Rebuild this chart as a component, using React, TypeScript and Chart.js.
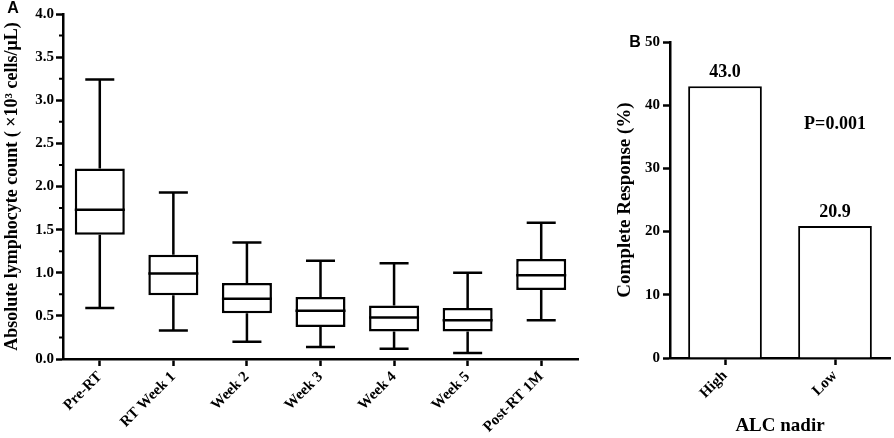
import React, { useEffect, useRef } from "react";
import { Chart, registerables } from "chart.js";

Chart.register(...registerables);

// ---- Panel A data (box plots) ----
const stages = ["Pre-RT", "RT Week 1", "Week 2", "Week 3", "Week 4", "Week 5", "Post-RT 1M"];
const whiskerMin = [0.59, 0.33, 0.2, 0.14, 0.12, 0.07, 0.45];
const quartile1 = [1.44, 0.74, 0.53, 0.37, 0.32, 0.32, 0.8];
const medianVals = [1.73, 0.99, 0.7, 0.56, 0.48, 0.45, 0.97];
const quartile3 = [2.21, 1.21, 0.88, 0.72, 0.62, 0.59, 1.16];
const whiskerMax = [3.24, 1.93, 1.35, 1.14, 1.11, 1.0, 1.58];
const yTitleA = "Absolute lymphocyte count ( \u00d710\u00b3 cells/\u03bcL)";

// ---- Panel B data (bars) ----
const alcGroups = ["High", "Low"];
const completeResponse = [43.0, 20.9];
const pValueText = "P=0.001";
const pValuePosition = 37; // y value where the P label sits (over "Low")

const SERIF = "'Liberation Serif', 'Times New Roman', serif";
const SANS = "'Liberation Sans', Arial, sans-serif";
const LINE = 2.5;

const tickFont = { family: SERIF, size: 15, weight: "bold" as const };
const titleFontA = { family: SERIF, size: 18, weight: "bold" as const };
const titleFont = { family: SERIF, size: 19, weight: "bold" as const };

const boxPlugin = {
  id: "boxWhiskers",
  afterDatasetsDraw(chart: any) {
    const meta = chart.getDatasetMeta(0);
    const y = chart.scales.y;
    const ctx = chart.ctx;
    ctx.save();
    ctx.strokeStyle = "#000";
    ctx.lineWidth = LINE;
    meta.data.forEach((bar: any, i: number) => {
      const { x, width } = bar.getProps(["x", "width"], true);
      const half = width / 2;
      const cap = width * 0.29;
      const yMed = y.getPixelForValue(medianVals[i]);
      const yQ1 = y.getPixelForValue(quartile1[i]);
      const yQ3 = y.getPixelForValue(quartile3[i]);
      const yMin = y.getPixelForValue(whiskerMin[i]);
      const yMax = y.getPixelForValue(whiskerMax[i]);
      ctx.beginPath();
      ctx.moveTo(x - half, yMed);
      ctx.lineTo(x + half, yMed);
      ctx.moveTo(x, yQ3);
      ctx.lineTo(x, yMax);
      ctx.moveTo(x - cap, yMax);
      ctx.lineTo(x + cap, yMax);
      ctx.moveTo(x, yQ1);
      ctx.lineTo(x, yMin);
      ctx.moveTo(x - cap, yMin);
      ctx.lineTo(x + cap, yMin);
      ctx.stroke();
    });
    // minor ticks on the y axis
    const left = chart.chartArea.left;
    ctx.lineWidth = 2;
    ctx.beginPath();
    for (let v = 0.25; v < 4; v += 0.5) {
      const py = y.getPixelForValue(v);
      ctx.moveTo(left - 4, py);
      ctx.lineTo(left, py);
    }
    ctx.stroke();
    // panel letter
    ctx.fillStyle = "#000";
    ctx.font = `bold 16px ${SANS}`;
    ctx.textAlign = "center";
    ctx.textBaseline = "middle";
    ctx.fillText("A", 13, 9);
    ctx.restore();
  },
};

const barLabelPlugin = {
  id: "barLabels",
  afterDatasetsDraw(chart: any) {
    const meta = chart.getDatasetMeta(0);
    const ctx = chart.ctx;
    const x = chart.scales.x;
    const y = chart.scales.y;
    ctx.save();
    ctx.fillStyle = "#000";
    ctx.font = `bold 18px ${SERIF}`;
    ctx.textAlign = "center";
    ctx.textBaseline = "middle";
    meta.data.forEach((bar: any, i: number) => {
      const { x: bx, y: by } = bar.getProps(["x", "y"], true);
      ctx.fillText(completeResponse[i].toFixed(1), bx, by - 14);
    });
    ctx.fillText(pValueText, x.getPixelForValue(1), y.getPixelForValue(pValuePosition));
    ctx.font = `bold 16px ${SANS}`;
    ctx.fillText("B", 35, 43);
    ctx.restore();
  },
};

function PanelA() {
  const ref = useRef<HTMLCanvasElement>(null);
  useEffect(() => {
    if (!ref.current) return;
    const chart = new Chart(ref.current, {
      type: "bar",
      data: {
        labels: stages,
        datasets: [
          {
            data: stages.map((_, i) => [quartile1[i], quartile3[i]]) as any,
            backgroundColor: "#fff",
            borderColor: "#000",
            borderWidth: LINE,
            borderSkipped: false,
            barPercentage: 0.68,
            categoryPercentage: 1,
          },
        ],
      },
      options: {
        responsive: false,
        maintainAspectRatio: false,
        animation: false,
        devicePixelRatio: 1,
        layout: { padding: { top: 14, right: 22, left: 0, bottom: 0 } },
        plugins: { legend: { display: false }, tooltip: { enabled: false } },
        scales: {
          x: {
            offset: true,
            grid: { offset: false, drawOnChartArea: false, drawTicks: true, tickLength: 7, tickWidth: LINE, tickColor: "#000" },
            border: { display: true, color: "#000", width: LINE },
            ticks: { color: "#000", font: tickFont, maxRotation: 45, minRotation: 45, autoSkip: false, padding: 2 },
            afterFit: (s: any) => { s.height = 79; },
          },
          y: {
            min: 0,
            max: 4,
            grid: { drawOnChartArea: false, drawTicks: true, tickLength: 7, tickWidth: LINE, tickColor: "#000" },
            border: { display: true, color: "#000", width: LINE },
            ticks: { color: "#000", font: tickFont, stepSize: 0.5, padding: 2, callback: (v: any) => Number(v).toFixed(1) },
            title: { display: true, text: yTitleA, color: "#000", font: titleFontA, padding: { top: 2, bottom: 0 } },
            afterFit: (s: any) => { s.width = 63; },
          },
        },
      },
      plugins: [boxPlugin],
    });
    return () => chart.destroy();
  }, []);
  return <canvas ref={ref} width={600} height={438} style={{ position: "absolute", left: 0, top: 0, width: 600, height: 438 }} />;
}

function PanelB() {
  const ref = useRef<HTMLCanvasElement>(null);
  useEffect(() => {
    if (!ref.current) return;
    const chart = new Chart(ref.current, {
      type: "bar",
      data: {
        labels: alcGroups,
        datasets: [
          {
            data: completeResponse,
            backgroundColor: "#fff",
            borderColor: "#000",
            borderWidth: 2,
            borderSkipped: "bottom",
            barPercentage: 0.67,
            categoryPercentage: 1,
          },
        ],
      },
      options: {
        responsive: false,
        maintainAspectRatio: false,
        animation: false,
        devicePixelRatio: 1,
        layout: { padding: { top: 42, right: 4, left: 0, bottom: 0 } },
        plugins: { legend: { display: false }, tooltip: { enabled: false } },
        scales: {
          x: {
            offset: true,
            grid: { offset: false, drawOnChartArea: false, drawTicks: true, tickLength: 7, tickWidth: LINE, tickColor: "#000" },
            border: { display: true, color: "#000", width: LINE },
            ticks: { color: "#000", font: tickFont, maxRotation: 45, minRotation: 45, autoSkip: false, padding: 2 },
            title: { display: true, text: "ALC nadir", color: "#000", font: titleFont, padding: { top: 0, bottom: 1 } },
            afterFit: (s: any) => { s.height = 80; },
          },
          y: {
            min: 0,
            max: 50,
            grid: { drawOnChartArea: false, drawTicks: true, tickLength: 7, tickWidth: LINE, tickColor: "#000" },
            border: { display: true, color: "#000", width: LINE },
            ticks: { color: "#000", font: tickFont, stepSize: 10, padding: 3 },
            title: { display: true, text: "Complete Response (%)", color: "#000", font: titleFont, padding: { top: 14, bottom: 0 } },
            afterFit: (s: any) => { s.width = 70; },
          },
        },
      },
      plugins: [barLabelPlugin],
    });
    return () => chart.destroy();
  }, []);
  return <canvas ref={ref} width={294} height={438} style={{ position: "absolute", left: 600, top: 0, width: 294, height: 438 }} />;
}

export default function App() {
  return (
    <div style={{ position: "fixed", left: 0, top: 0, width: 894, height: 438, background: "#fff", overflow: "hidden" }}>
      <PanelA />
      <PanelB />
    </div>
  );
}
